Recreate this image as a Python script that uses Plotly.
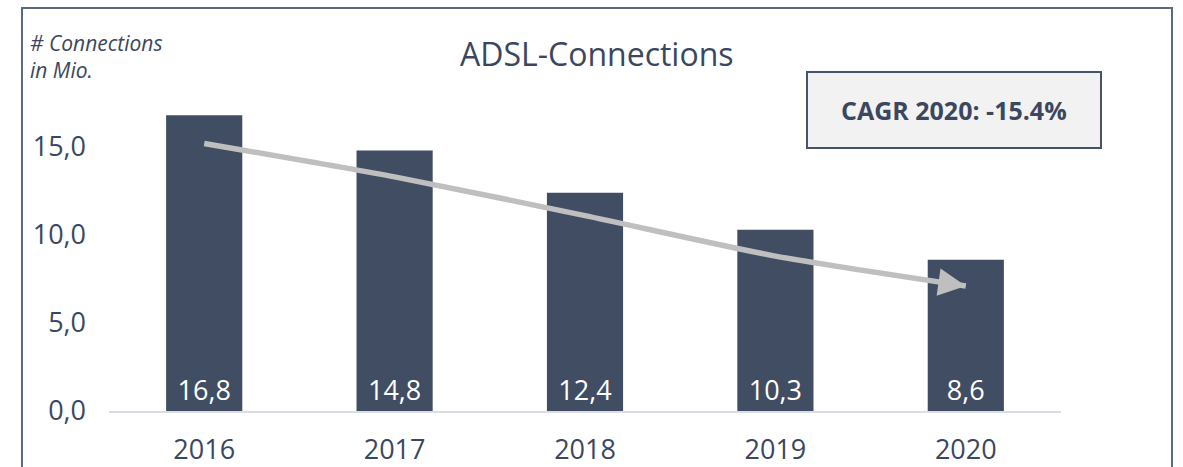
import plotly.graph_objects as go

years = ["2016", "2017", "2018", "2019", "2020"]
connections = [16.8, 14.8, 12.4, 10.3, 8.6]
trend = [15.2, 13.3, 11.1, 8.8, 7.1]
y_ticks = [0, 5, 10, 15]
title_text = "ADSL-Connections"
y_label = "# Connections<br>in Mio."
cagr_text = "CAGR 2020: -15.4%"

BAR = "#414d63"
TXT = "#3b4760"
ARROW = "#bfbfbf"
FONT = "Open Sans"

xpos = list(range(len(years)))

fig = go.Figure()
fig.add_trace(go.Bar(
    x=xpos, y=connections, width=0.4,
    marker=dict(color=BAR, line=dict(width=0)),
    text=[f"{v:.1f}".replace(".", ",") for v in connections],
    textposition="inside", insidetextanchor="start",
    textfont=dict(family=FONT, size=27, color="white"),
    hoverinfo="skip",
))
fig.add_trace(go.Scatter(
    x=xpos, y=trend, mode="lines",
    line=dict(color=ARROW, width=5.5, shape="spline", smoothing=0.6, backoff=16),
    hoverinfo="skip",
))
# arrowhead at the end of the trend line
fig.add_annotation(
    x=xpos[-1], y=trend[-1], xref="x", yref="y", ax=-28, ay=-4,
    text="", showarrow=True, arrowhead=2, arrowsize=1.0, arrowwidth=5.5,
    arrowcolor=ARROW, standoff=0,
)

fig.add_annotation(text=title_text, xref="paper", yref="paper", x=(597 - 109) / 952, y=1.015,
                   xanchor="center", yanchor="middle", showarrow=False,
                   font=dict(family=FONT, size=32, color=TXT))
fig.add_annotation(text=y_label, xref="paper", yref="paper", x=-0.085, y=1.092,
                   xanchor="left", yanchor="top", showarrow=False, align="left",
                   font=dict(family=FONT, size=21, color=TXT, style="italic"))
fig.add_annotation(text="<b>" + cagr_text + "</b>", xref="paper", yref="paper",
                   x=(954 - 109) / 952, y=(411 - 110) / 352, xanchor="center", yanchor="middle",
                   showarrow=False, font=dict(family=FONT, size=25, color=TXT))

# CAGR box
fig.add_shape(type="rect", xref="paper", yref="paper",
              x0=(807 - 109) / 952, x1=(1101 - 109) / 952,
              y0=(411 - 148) / 352, y1=(411 - 72) / 352,
              fillcolor="#f2f2f2", line=dict(color="#44546a", width=2), layer="below")
# outer chart border
fig.add_shape(type="rect", xref="paper", yref="paper",
              x0=(22 - 109) / 952, x1=(1172 - 109) / 952,
              y0=-0.3, y1=(411 - 8) / 352,
              line=dict(color="#5a6a80", width=2), fillcolor="rgba(0,0,0,0)")

fig.update_layout(
    width=1183, height=467,
    margin=dict(l=109, r=122, t=59, b=56, autoexpand=False),
    paper_bgcolor="white", plot_bgcolor="white",
    showlegend=False, separators=",.",
    font=dict(family=FONT, color=TXT),
    xaxis=dict(showgrid=False, showline=True, linecolor="#d9dee6", linewidth=2,
               tickvals=xpos, ticktext=years, automargin=False,
               ticks="", tickfont=dict(family=FONT, size=27, color=TXT),
               ticklabelstandoff=14, range=[-0.5, 4.5], fixedrange=True),
    yaxis=dict(range=[0, 20], tickvals=y_ticks, tickformat=".1f", automargin=False,
               showgrid=False, zeroline=False, showline=False, ticks="",
               tickfont=dict(family=FONT, size=27, color=TXT),
               ticklabelstandoff=22, fixedrange=True),
)

fig.write_html("out.html", config={"displayModeBar": False},
               post_script="document.body.style.margin='0';")
